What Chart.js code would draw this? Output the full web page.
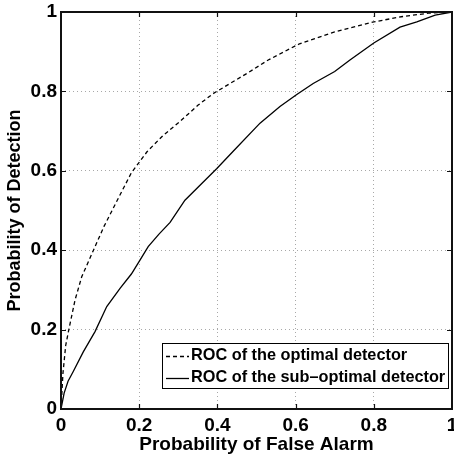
<!DOCTYPE html>
<html lang="en">
<head>
  <meta charset="UTF-8" />
  <title>ROC curves</title>
  <script src="https://cdn.jsdelivr.net/npm/chart.js"></script>
  <style>
    html, body { margin: 0; padding: 0; background: #fff; }
    #wrap { width: 454px; height: 457px; position: relative; }
  </style>
</head>
<body>
  <div id="wrap"><canvas id="roc"></canvas></div>

  <script>
    // curve values
    const optimalPfa = [0, 0.005, 0.012, 0.02, 0.036, 0.053, 0.083, 0.11, 0.144, 0.18, 0.22, 0.26, 0.304, 0.35, 0.39, 0.475, 0.53, 0.61, 0.7, 0.8, 0.87, 0.94, 1];
    const optimalPd  = [0, 0.09, 0.16, 0.2, 0.275, 0.333, 0.4, 0.46, 0.526, 0.595, 0.648, 0.688, 0.724, 0.765, 0.795, 0.845, 0.879, 0.92, 0.95, 0.975, 0.988, 0.997, 1];

    const subPfa = [0, 0.008, 0.018, 0.031, 0.057, 0.087, 0.117, 0.151, 0.18, 0.202, 0.223, 0.25, 0.279, 0.317, 0.36, 0.398, 0.441, 0.509, 0.56, 0.603, 0.645, 0.7, 0.739, 0.8, 0.867, 0.91, 0.957, 1];
    const subPd  = [0, 0.04, 0.07, 0.094, 0.144, 0.195, 0.258, 0.304, 0.34, 0.375, 0.409, 0.44, 0.47, 0.526, 0.568, 0.605, 0.65, 0.72, 0.762, 0.792, 0.82, 0.85, 0.879, 0.922, 0.962, 0.975, 0.992, 1];

    const tickValues = [0, 0.2, 0.4, 0.6, 0.8, 1];
    const seriesLabels = ['ROC of the optimal detector', 'ROC of the sub\u2013optimal detector'];
    const xTitle = 'Probability of False Alarm';
    const yTitle = 'Probability of Detection';

    const FONT = '"Liberation Sans", Arial, Helvetica, sans-serif';

    const toPoints = (xs, ys) => xs.map((x, i) => ({ x, y: ys[i] }));
    const fmt = v => String(Math.round(v * 10) / 10);

    // grid only on inner ticks, the box is drawn by the plugin
    const gridColor = c => (c.tick && (c.tick.value <= 0 || c.tick.value >= 1)) ? 'rgba(0,0,0,0)' : '#a8a8a8';

    const frame = {
      id: 'frame',
      afterDatasetsDraw(chart) {
        const { ctx, chartArea: a, scales: { x, y } } = chart;
        ctx.save();
        ctx.strokeStyle = '#111';
        ctx.lineWidth = 1.2;
        // inward ticks on all four sides
        tickValues.forEach(v => {
          if (v <= 0 || v >= 1) return;
          const px = Math.round(x.getPixelForValue(v)) + 0.5;
          const py = Math.round(y.getPixelForValue(v)) + 0.5;
          ctx.beginPath();
          ctx.moveTo(px, a.bottom); ctx.lineTo(px, a.bottom - 5);
          ctx.moveTo(px, a.top); ctx.lineTo(px, a.top + 5);
          ctx.moveTo(a.left, py); ctx.lineTo(a.left + 5, py);
          ctx.moveTo(a.right, py); ctx.lineTo(a.right - 5, py);
          ctx.stroke();
        });
        ctx.lineWidth = 2;
        ctx.strokeRect(a.left, a.top, a.right - a.left, a.bottom - a.top);

        // legend box
        const lx = 162, ly = 343, lw = 286, lh = 45;
        ctx.fillStyle = '#fff';
        ctx.fillRect(lx, ly, lw, lh);
        ctx.lineWidth = 1;
        ctx.strokeStyle = '#000';
        ctx.strokeRect(lx + 0.5, ly + 0.5, lw, lh);
        const rows = [356, 378];
        chart.data.datasets.forEach((ds, i) => {
          ctx.beginPath();
          ctx.setLineDash(ds.borderDash || []);
          ctx.lineWidth = 1.3;
          ctx.moveTo(166, rows[i] + 0.5);
          ctx.lineTo(189, rows[i] + 0.5);
          ctx.stroke();
          ctx.setLineDash([]);
          ctx.fillStyle = '#000';
          ctx.font = 'bold 16.3px ' + FONT;
          ctx.textBaseline = 'middle';
          ctx.textAlign = 'left';
          ctx.fillText(ds.label, 191, rows[i]);
        });
        ctx.restore();
      }
    };

    new Chart(document.getElementById('roc'), {
      type: 'scatter',
      data: {
        datasets: [
          {
            label: seriesLabels[0],
            data: toPoints(optimalPfa, optimalPd),
            showLine: true,
            borderColor: '#000',
            borderWidth: 1.3,
            borderDash: [4, 3],
            pointRadius: 0,
            tension: 0
          },
          {
            label: seriesLabels[1],
            data: toPoints(subPfa, subPd),
            showLine: true,
            borderColor: '#000',
            borderWidth: 1.3,
            pointRadius: 0,
            tension: 0
          }
        ]
      },
      options: {
        responsive: true,
        maintainAspectRatio: false,
        animation: false,
        layout: { padding: { top: 12, right: 2, left: 0, bottom: 0 } },
        plugins: { legend: { display: false }, tooltip: { enabled: false } },
        scales: {
          x: {
            type: 'linear',
            min: 0, max: 1,
            afterBuildTicks: s => { s.ticks = tickValues.map(v => ({ value: v })); },
            ticks: { callback: fmt, padding: 7, color: '#000', maxRotation: 0, font: { family: FONT, size: 19, weight: 'bold', lineHeight: 1 } },
            grid: { color: gridColor, lineWidth: 1, drawTicks: false },
            border: { display: false, dash: [1, 3] },
            title: { display: true, text: xTitle, color: '#000', padding: { top: 0, bottom: 3 }, font: { family: FONT, size: 19, weight: 'bold', lineHeight: 1 } },
            afterFit: s => { s.height = 48; s.paddingLeft = 0; s.paddingRight = 0; }
          },
          y: {
            type: 'linear',
            min: 0, max: 1,
            afterBuildTicks: s => { s.ticks = tickValues.map(v => ({ value: v })); },
            ticks: { callback: fmt, padding: 4, color: '#000', font: { family: FONT, size: 19, weight: 'bold' } },
            grid: { color: gridColor, lineWidth: 1, drawTicks: false },
            border: { display: false, dash: [1, 3] },
            title: { display: true, text: yTitle, color: '#000', padding: { top: 6, bottom: 0 }, font: { family: FONT, size: 18, weight: 'bold', lineHeight: 1 } },
            afterFit: s => { s.width = 61; s.paddingTop = 0; s.paddingBottom = 0; }
          }
        }
      },
      plugins: [frame]
    });
  </script>
</body>
</html>
